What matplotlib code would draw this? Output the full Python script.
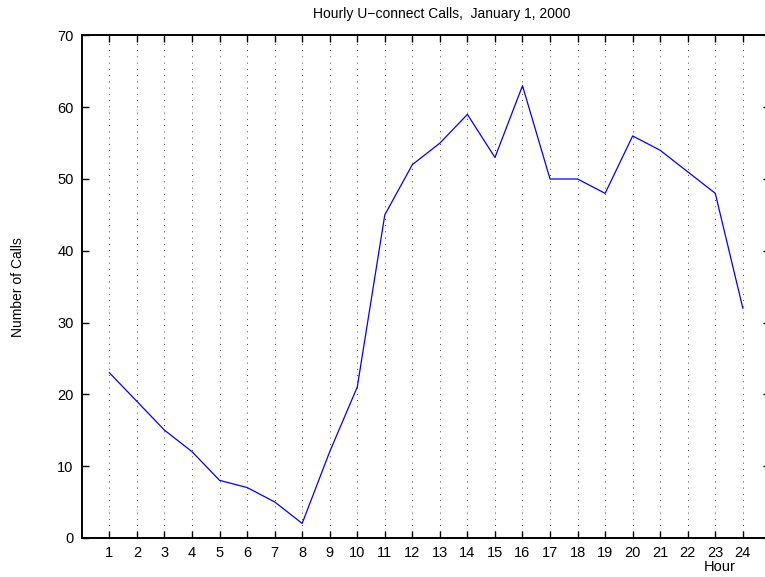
import matplotlib
matplotlib.use("Agg")
from matplotlib import pyplot as plt

# Dados das chamadas por hora
horas = list(range(1, 25))
chamadas = [23, 19, 15, 12, 8, 7, 5, 2, 12, 21, 45, 52, 55, 59, 53, 63,
            50, 50, 48, 56, 54, 51, 48, 32]
ticks_y = [0, 10, 20, 30, 40, 50, 60, 70]

plt.rcParams['font.family'] = ['Liberation Sans', 'DejaVu Sans']

fig = plt.figure(figsize=(7.65, 5.77), dpi=100)
ax = fig.add_axes([0.107, 0.068, 0.9, 0.8705])

ax.plot(horas, chamadas, color='#0000ff', linewidth=0.9)

ax.set_xlim(0, 25)
ax.set_ylim(0, 70)
ax.set_xticks(horas)
ax.set_yticks(ticks_y)

# grade vertical pontilhada
for h in horas:
    ax.axvline(h, color='k', linestyle=(0, (1, 6.5)), linewidth=0.6, zorder=0)

for lado in ['left', 'bottom', 'top', 'right']:
    ax.spines[lado].set_linewidth(1.4)
ax.tick_params(direction='in', length=5, width=1, top=True, right=True,
               labelsize=10.5, pad=6)

fig.text(442 / 765, 1 - 14 / 577, 'Hourly U\u2212connect Calls,  January 1, 2000',
         ha='center', va='center', fontsize=10)
fig.text(18 / 765, 1 - 287 / 577, 'Number of Calls', rotation=90,
         ha='center', va='center', fontsize=10)
fig.text(720 / 765, 1 - 567 / 577, 'Hour', ha='center', va='center', fontsize=10.5)

fig.savefig('out.png', dpi=100)
